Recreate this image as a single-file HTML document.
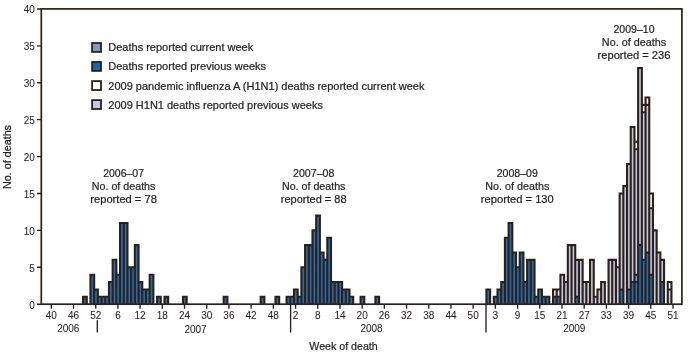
<!DOCTYPE html>
<html><head><meta charset="utf-8"><style>
html,body{margin:0;padding:0;background:#fff;width:692px;height:354px;overflow:hidden;}
svg{display:block;font-family:"Liberation Sans",sans-serif;}
</style></head><body>
<svg style="will-change:transform" width="692" height="354" viewBox="0 0 692 354">
<rect width="692" height="354" fill="#fff"/>
<g><rect x="83.06" y="296.82" width="3.7" height="7.38" fill="#2a6aae"/><rect x="90.46" y="274.68" width="3.7" height="29.52" fill="#2a6aae"/><rect x="94.16" y="289.44" width="3.7" height="14.76" fill="#2a6aae"/><rect x="97.86" y="296.82" width="3.7" height="7.38" fill="#2a6aae"/><rect x="101.56" y="296.82" width="3.7" height="7.38" fill="#2a6aae"/><rect x="105.26" y="296.82" width="3.7" height="7.38" fill="#2a6aae"/><rect x="108.96" y="282.06" width="3.7" height="22.14" fill="#2a6aae"/><rect x="112.66" y="259.91" width="3.7" height="44.29" fill="#2a6aae"/><rect x="116.36" y="274.68" width="3.7" height="29.52" fill="#2a6aae"/><rect x="120.06" y="223.01" width="3.7" height="81.19" fill="#2a6aae"/><rect x="123.76" y="223.01" width="3.7" height="81.19" fill="#2a6aae"/><rect x="127.46" y="267.29" width="3.7" height="36.91" fill="#2a6aae"/><rect x="131.16" y="267.29" width="3.7" height="36.91" fill="#2a6aae"/><rect x="134.86" y="245.15" width="3.7" height="59.05" fill="#2a6aae"/><rect x="138.56" y="282.06" width="3.7" height="22.14" fill="#2a6aae"/><rect x="142.26" y="289.44" width="3.7" height="14.76" fill="#2a6aae"/><rect x="145.97" y="289.44" width="3.7" height="14.76" fill="#2a6aae"/><rect x="149.67" y="274.68" width="3.7" height="29.52" fill="#2a6aae"/><rect x="157.07" y="296.82" width="3.7" height="7.38" fill="#2a6aae"/><rect x="164.47" y="296.82" width="3.7" height="7.38" fill="#2a6aae"/><rect x="182.97" y="296.82" width="3.7" height="7.38" fill="#2a6aae"/><rect x="223.68" y="296.82" width="3.7" height="7.38" fill="#2a6aae"/><rect x="260.68" y="296.82" width="3.7" height="7.38" fill="#2a6aae"/><rect x="275.49" y="296.82" width="3.7" height="7.38" fill="#2a6aae"/><rect x="286.59" y="296.82" width="3.7" height="7.38" fill="#2a6aae"/><rect x="290.29" y="296.82" width="3.7" height="7.38" fill="#2a6aae"/><rect x="293.99" y="289.44" width="3.7" height="14.76" fill="#2a6aae"/><rect x="297.69" y="296.82" width="3.7" height="7.38" fill="#2a6aae"/><rect x="301.39" y="267.29" width="3.7" height="36.91" fill="#2a6aae"/><rect x="305.09" y="245.15" width="3.7" height="59.05" fill="#2a6aae"/><rect x="308.79" y="245.15" width="3.7" height="59.05" fill="#2a6aae"/><rect x="312.49" y="230.39" width="3.7" height="73.81" fill="#2a6aae"/><rect x="316.19" y="215.63" width="3.7" height="88.57" fill="#2a6aae"/><rect x="319.89" y="252.53" width="3.7" height="51.67" fill="#2a6aae"/><rect x="323.59" y="259.91" width="3.7" height="44.29" fill="#2a6aae"/><rect x="327.29" y="237.77" width="3.7" height="66.43" fill="#2a6aae"/><rect x="331" y="282.06" width="3.7" height="22.14" fill="#2a6aae"/><rect x="334.7" y="282.06" width="3.7" height="22.14" fill="#2a6aae"/><rect x="338.4" y="282.06" width="3.7" height="22.14" fill="#2a6aae"/><rect x="342.1" y="289.44" width="3.7" height="14.76" fill="#2a6aae"/><rect x="345.8" y="289.44" width="3.7" height="14.76" fill="#2a6aae"/><rect x="349.5" y="296.82" width="3.7" height="7.38" fill="#2a6aae"/><rect x="360.6" y="296.82" width="3.7" height="7.38" fill="#2a6aae"/><rect x="375.4" y="296.82" width="3.7" height="7.38" fill="#2a6aae"/><rect x="486.42" y="289.44" width="3.7" height="14.76" fill="#2a6aae"/><rect x="493.82" y="296.82" width="3.7" height="7.38" fill="#2a6aae"/><rect x="497.52" y="289.44" width="3.7" height="14.76" fill="#2a6aae"/><rect x="501.22" y="282.06" width="3.7" height="22.14" fill="#2a6aae"/><rect x="504.92" y="237.77" width="3.7" height="66.43" fill="#2a6aae"/><rect x="508.62" y="223.01" width="3.7" height="81.19" fill="#2a6aae"/><rect x="512.32" y="252.53" width="3.7" height="51.67" fill="#2a6aae"/><rect x="516.03" y="267.29" width="3.7" height="36.91" fill="#2a6aae"/><rect x="519.73" y="252.53" width="3.7" height="51.67" fill="#2a6aae"/><rect x="523.43" y="282.06" width="3.7" height="22.14" fill="#2a6aae"/><rect x="527.13" y="259.91" width="3.7" height="44.29" fill="#2a6aae"/><rect x="530.83" y="259.91" width="3.7" height="44.29" fill="#2a6aae"/><rect x="534.53" y="296.82" width="3.7" height="7.38" fill="#2a6aae"/><rect x="538.23" y="289.44" width="3.7" height="14.76" fill="#2a6aae"/><rect x="541.93" y="296.82" width="3.7" height="7.38" fill="#2a6aae"/><rect x="545.63" y="296.82" width="3.7" height="7.38" fill="#2a6aae"/><rect x="553.03" y="296.82" width="3.7" height="7.38" fill="#2a6aae"/><rect x="553.03" y="289.44" width="3.7" height="7.38" fill="#dfe0ee"/><rect x="556.73" y="296.82" width="3.7" height="7.38" fill="#2a6aae"/><rect x="556.73" y="289.44" width="3.7" height="7.38" fill="#dfe0ee"/><rect x="560.43" y="274.68" width="3.7" height="29.52" fill="#c3c7e0"/><rect x="564.13" y="282.06" width="3.7" height="22.14" fill="#c3c7e0"/><rect x="567.83" y="245.15" width="3.7" height="59.05" fill="#c3c7e0"/><rect x="571.53" y="245.15" width="3.7" height="59.05" fill="#c3c7e0"/><rect x="575.23" y="296.82" width="3.7" height="7.38" fill="#2a6aae"/><rect x="575.23" y="259.91" width="3.7" height="36.9" fill="#c3c7e0"/><rect x="578.94" y="259.91" width="3.7" height="44.29" fill="#c3c7e0"/><rect x="582.64" y="282.06" width="3.7" height="22.14" fill="#c3c7e0"/><rect x="586.34" y="282.06" width="3.7" height="22.14" fill="#c3c7e0"/><rect x="590.04" y="259.91" width="3.7" height="44.29" fill="#c3c7e0"/><rect x="593.74" y="296.82" width="3.7" height="7.38" fill="#c3c7e0"/><rect x="597.44" y="289.44" width="3.7" height="14.76" fill="#c3c7e0"/><rect x="601.14" y="282.06" width="3.7" height="22.14" fill="#c3c7e0"/><rect x="608.54" y="259.91" width="3.7" height="44.29" fill="#c3c7e0"/><rect x="612.24" y="259.91" width="3.7" height="44.29" fill="#c3c7e0"/><rect x="615.94" y="267.29" width="3.7" height="36.91" fill="#c3c7e0"/><rect x="619.64" y="289.44" width="3.7" height="14.76" fill="#2a6aae"/><rect x="619.64" y="193.48" width="3.7" height="95.95" fill="#c3c7e0"/><rect x="623.34" y="186.1" width="3.7" height="118.1" fill="#c3c7e0"/><rect x="627.04" y="289.44" width="3.7" height="14.76" fill="#2a6aae"/><rect x="627.04" y="163.96" width="3.7" height="125.48" fill="#c3c7e0"/><rect x="630.74" y="282.06" width="3.7" height="22.14" fill="#2a6aae"/><rect x="630.74" y="127.06" width="3.7" height="155" fill="#c3c7e0"/><rect x="634.44" y="282.06" width="3.7" height="22.14" fill="#2a6aae"/><rect x="634.44" y="274.68" width="3.7" height="7.38" fill="#8496c8"/><rect x="634.44" y="149.2" width="3.7" height="125.48" fill="#c3c7e0"/><rect x="634.44" y="141.82" width="3.7" height="7.38" fill="#ffffff"/><rect x="638.15" y="245.15" width="3.7" height="59.05" fill="#2a6aae"/><rect x="638.15" y="68.01" width="3.7" height="177.14" fill="#c3c7e0"/><rect x="641.85" y="259.91" width="3.7" height="44.29" fill="#2a6aae"/><rect x="641.85" y="112.29" width="3.7" height="147.62" fill="#c3c7e0"/><rect x="641.85" y="104.91" width="3.7" height="7.38" fill="#ffffff"/><rect x="645.55" y="252.53" width="3.7" height="51.67" fill="#2a6aae"/><rect x="645.55" y="104.91" width="3.7" height="147.62" fill="#c3c7e0"/><rect x="645.55" y="97.53" width="3.7" height="7.38" fill="#ffffff"/><rect x="649.25" y="274.68" width="3.7" height="29.52" fill="#2a6aae"/><rect x="649.25" y="208.25" width="3.7" height="66.43" fill="#c3c7e0"/><rect x="649.25" y="193.48" width="3.7" height="14.76" fill="#ffffff"/><rect x="652.95" y="230.39" width="3.7" height="73.81" fill="#c3c7e0"/><rect x="656.65" y="252.53" width="3.7" height="51.67" fill="#c3c7e0"/><rect x="660.35" y="282.06" width="3.7" height="22.14" fill="#2a6aae"/><rect x="660.35" y="259.91" width="3.7" height="22.14" fill="#c3c7e0"/><rect x="667.75" y="289.44" width="3.7" height="14.76" fill="#c3c7e0"/><rect x="667.75" y="282.06" width="3.7" height="7.38" fill="#ffffff"/></g>
<path d="M83.06 304.2V296.82H86.76V304.2M90.46 304.2V274.68H94.16V304.2M94.16 304.2V289.44H97.86V304.2M97.86 304.2V296.82H101.56V304.2M101.56 304.2V296.82H105.26V304.2M105.26 304.2V296.82H108.96V304.2M108.96 304.2V282.06H112.66V304.2M112.66 304.2V259.91H116.36V304.2M116.36 304.2V274.68H120.06V304.2M120.06 304.2V223.01H123.76V304.2M123.76 304.2V223.01H127.46V304.2M127.46 304.2V267.29H131.16V304.2M131.16 304.2V267.29H134.86V304.2M134.86 304.2V245.15H138.56V304.2M138.56 304.2V282.06H142.26V304.2M142.26 304.2V289.44H145.97V304.2M145.97 304.2V289.44H149.67V304.2M149.67 304.2V274.68H153.37V304.2M157.07 304.2V296.82H160.77V304.2M164.47 304.2V296.82H168.17V304.2M182.97 304.2V296.82H186.67V304.2M223.68 304.2V296.82H227.38V304.2M260.68 304.2V296.82H264.38V304.2M275.49 304.2V296.82H279.19V304.2M286.59 304.2V296.82H290.29V304.2M290.29 304.2V296.82H293.99V304.2M293.99 304.2V289.44H297.69V304.2M297.69 304.2V296.82H301.39V304.2M301.39 304.2V267.29H305.09V304.2M305.09 304.2V245.15H308.79V304.2M308.79 304.2V245.15H312.49V304.2M312.49 304.2V230.39H316.19V304.2M316.19 304.2V215.63H319.89V304.2M319.89 304.2V252.53H323.59V304.2M323.59 304.2V259.91H327.29V304.2M327.29 304.2V237.77H331V304.2M331 304.2V282.06H334.7V304.2M334.7 304.2V282.06H338.4V304.2M338.4 304.2V282.06H342.1V304.2M342.1 304.2V289.44H345.8V304.2M345.8 304.2V289.44H349.5V304.2M349.5 304.2V296.82H353.2V304.2M360.6 304.2V296.82H364.3V304.2M375.4 304.2V296.82H379.1V304.2M486.42 304.2V289.44H490.12V304.2M493.82 304.2V296.82H497.52V304.2M497.52 304.2V289.44H501.22V304.2M501.22 304.2V282.06H504.92V304.2M504.92 304.2V237.77H508.62V304.2M508.62 304.2V223.01H512.32V304.2M512.32 304.2V252.53H516.03V304.2M516.03 304.2V267.29H519.73V304.2M519.73 304.2V252.53H523.43V304.2M523.43 304.2V282.06H527.13V304.2M527.13 304.2V259.91H530.83V304.2M530.83 304.2V259.91H534.53V304.2M534.53 304.2V296.82H538.23V304.2M538.23 304.2V289.44H541.93V304.2M541.93 304.2V296.82H545.63V304.2M545.63 304.2V296.82H549.33V304.2M553.03 304.2V296.82H556.73V304.2M553.03 296.82V289.44H556.73V296.82M556.73 304.2V296.82H560.43V304.2M556.73 296.82V289.44H560.43V296.82M560.43 304.2V274.68H564.13V304.2M564.13 304.2V282.06H567.83V304.2M567.83 304.2V245.15H571.53V304.2M571.53 304.2V245.15H575.23V304.2M575.23 304.2V296.82H578.94V304.2M575.23 296.82V259.91H578.94V296.82M578.94 304.2V259.91H582.64V304.2M582.64 304.2V282.06H586.34V304.2M586.34 304.2V282.06H590.04V304.2M590.04 304.2V259.91H593.74V304.2M593.74 304.2V296.82H597.44V304.2M597.44 304.2V289.44H601.14V304.2M601.14 304.2V282.06H604.84V304.2M608.54 304.2V259.91H612.24V304.2M612.24 304.2V259.91H615.94V304.2M615.94 304.2V267.29H619.64V304.2M619.64 304.2V289.44H623.34V304.2M619.64 289.44V193.48H623.34V289.44M623.34 304.2V186.1H627.04V304.2M627.04 304.2V289.44H630.74V304.2M627.04 289.44V163.96H630.74V289.44M630.74 304.2V282.06H634.44V304.2M630.74 282.06V127.06H634.44V282.06M634.44 304.2V282.06H638.15V304.2M634.44 282.06V274.68H638.15V282.06M634.44 274.68V149.2H638.15V274.68M634.44 149.2V141.82H638.15V149.2M638.15 304.2V245.15H641.85V304.2M638.15 245.15V68.01H641.85V245.15M641.85 304.2V259.91H645.55V304.2M641.85 259.91V112.29H645.55V259.91M641.85 112.29V104.91H645.55V112.29M645.55 304.2V252.53H649.25V304.2M645.55 252.53V104.91H649.25V252.53M645.55 104.91V97.53H649.25V104.91M649.25 304.2V274.68H652.95V304.2M649.25 274.68V208.25H652.95V274.68M649.25 208.25V193.48H652.95V208.25M652.95 304.2V230.39H656.65V304.2M656.65 304.2V252.53H660.35V304.2M660.35 304.2V282.06H664.05V304.2M660.35 282.06V259.91H664.05V282.06M667.75 304.2V289.44H671.45V304.2M667.75 289.44V282.06H671.45V289.44" fill="none" stroke="#2b2119" stroke-width="2.1" stroke-linejoin="miter"/>
<rect x="41.3" y="8.9" width="640.6" height="295.3" fill="none" stroke="#2b2119" stroke-width="1.7"/>
<path d="M37 304.2H41.3M37 267.29H41.3M37 230.39H41.3M37 193.48H41.3M37 156.58H41.3M37 119.67H41.3M37 82.77H41.3M37 45.86H41.3M37 8.96H41.3M51.3 304.2V308.8M73.5 304.2V308.8M95.71 304.2V308.8M117.91 304.2V308.8M140.11 304.2V308.8M162.32 304.2V308.8M184.52 304.2V308.8M206.73 304.2V308.8M228.93 304.2V308.8M251.13 304.2V308.8M273.34 304.2V308.8M295.54 304.2V308.8M317.74 304.2V308.8M339.95 304.2V308.8M362.15 304.2V308.8M384.35 304.2V308.8M406.56 304.2V308.8M428.76 304.2V308.8M450.96 304.2V308.8M473.17 304.2V308.8M495.37 304.2V308.8M517.58 304.2V308.8M539.78 304.2V308.8M561.98 304.2V308.8M584.19 304.2V308.8M606.39 304.2V308.8M628.59 304.2V308.8M650.8 304.2V308.8M673 304.2V308.8M97.3 320.2V332.6M290.6 304.2V332.6M486 304.2V332.6" fill="none" stroke="#2b2119" stroke-width="1.35"/>
<g font-family="Liberation Sans, sans-serif" font-size="10" fill="#231f20" stroke="#231f20" stroke-width="0.06"><text x="34.9" y="308.7" text-anchor="end">0</text><text x="34.9" y="271.79" text-anchor="end">5</text><text x="34.9" y="234.89" text-anchor="end">10</text><text x="34.9" y="197.98" text-anchor="end">15</text><text x="34.9" y="161.08" text-anchor="end">20</text><text x="34.9" y="124.17" text-anchor="end">25</text><text x="34.9" y="87.27" text-anchor="end">30</text><text x="34.9" y="50.36" text-anchor="end">35</text><text x="34.9" y="13.46" text-anchor="end">40</text><text x="51.3" y="318.8" text-anchor="middle">40</text><text x="73.5" y="318.8" text-anchor="middle">46</text><text x="95.71" y="318.8" text-anchor="middle">52</text><text x="117.91" y="318.8" text-anchor="middle">6</text><text x="140.11" y="318.8" text-anchor="middle">12</text><text x="162.32" y="318.8" text-anchor="middle">18</text><text x="184.52" y="318.8" text-anchor="middle">24</text><text x="206.73" y="318.8" text-anchor="middle">30</text><text x="228.93" y="318.8" text-anchor="middle">36</text><text x="251.13" y="318.8" text-anchor="middle">42</text><text x="273.34" y="318.8" text-anchor="middle">48</text><text x="295.54" y="318.8" text-anchor="middle">2</text><text x="317.74" y="318.8" text-anchor="middle">8</text><text x="339.95" y="318.8" text-anchor="middle">14</text><text x="362.15" y="318.8" text-anchor="middle">20</text><text x="384.35" y="318.8" text-anchor="middle">26</text><text x="406.56" y="318.8" text-anchor="middle">32</text><text x="428.76" y="318.8" text-anchor="middle">38</text><text x="450.96" y="318.8" text-anchor="middle">44</text><text x="473.17" y="318.8" text-anchor="middle">50</text><text x="495.37" y="318.8" text-anchor="middle">3</text><text x="517.58" y="318.8" text-anchor="middle">9</text><text x="539.78" y="318.8" text-anchor="middle">15</text><text x="561.98" y="318.8" text-anchor="middle">21</text><text x="584.19" y="318.8" text-anchor="middle">27</text><text x="606.39" y="318.8" text-anchor="middle">33</text><text x="628.59" y="318.8" text-anchor="middle">39</text><text x="650.8" y="318.8" text-anchor="middle">45</text><text x="673" y="318.8" text-anchor="middle">51</text><text x="68.3" y="331.9" text-anchor="middle">2006</text><text x="195.5" y="332.5" text-anchor="middle">2007</text><text x="371.5" y="331.9" text-anchor="middle">2008</text><text x="574.3" y="331.9" text-anchor="middle">2009</text></g>
<rect x="92.1" y="43" width="8.9" height="8.9" fill="#8496c8" stroke="#2b2119" stroke-width="1.8"/><rect x="92.1" y="62" width="8.9" height="8.9" fill="#1d65a8" stroke="#2b2119" stroke-width="1.8"/><rect x="92.1" y="81.1" width="8.9" height="8.9" fill="#ffffff" stroke="#2b2119" stroke-width="1.8"/><rect x="92.1" y="100.1" width="8.9" height="8.9" fill="#c3c7e0" stroke="#2b2119" stroke-width="1.8"/>
<g font-family="Liberation Sans, sans-serif" font-size="11" fill="#231f20" stroke="#231f20" stroke-width="0.22"><text x="343.5" y="349.8" text-anchor="middle" textLength="68.3" lengthAdjust="spacingAndGlyphs">Week of death</text><text transform="translate(10.8 157) rotate(-90)" text-anchor="middle" textLength="64" lengthAdjust="spacingAndGlyphs">No. of deaths</text><text x="123.6" y="177.1" text-anchor="middle" textLength="40.8" lengthAdjust="spacingAndGlyphs">2006–07</text><text x="123.6" y="189.8" text-anchor="middle" textLength="63.6" lengthAdjust="spacingAndGlyphs">No. of deaths</text><text x="123.6" y="202.5" text-anchor="middle" textLength="66.5" lengthAdjust="spacingAndGlyphs">reported = 78</text><text x="313.7" y="177.1" text-anchor="middle" textLength="41.2" lengthAdjust="spacingAndGlyphs">2007–08</text><text x="313.7" y="189.8" text-anchor="middle" textLength="63.5" lengthAdjust="spacingAndGlyphs">No. of deaths</text><text x="313.7" y="202.5" text-anchor="middle" textLength="65.8" lengthAdjust="spacingAndGlyphs">reported = 88</text><text x="517.3" y="177.1" text-anchor="middle" textLength="41.2" lengthAdjust="spacingAndGlyphs">2008–09</text><text x="517.3" y="189.8" text-anchor="middle" textLength="64" lengthAdjust="spacingAndGlyphs">No. of deaths</text><text x="517.3" y="202.5" text-anchor="middle" textLength="73" lengthAdjust="spacingAndGlyphs">reported = 130</text><text x="634" y="33.1" text-anchor="middle" textLength="41.1" lengthAdjust="spacingAndGlyphs">2009–10</text><text x="634" y="45.8" text-anchor="middle" textLength="64.3" lengthAdjust="spacingAndGlyphs">No. of deaths</text><text x="634" y="58.5" text-anchor="middle" textLength="73" lengthAdjust="spacingAndGlyphs">reported = 236</text><text x="108.3" y="51.4">Deaths reported current week</text><text x="108.3" y="70.4">Deaths reported previous weeks</text><text x="108.3" y="89.5">2009 pandemic influenza A (H1N1) deaths reported current week</text><text x="108.3" y="108.5">2009 H1N1 deaths reported previous weeks</text></g>
</svg>
</body></html>
